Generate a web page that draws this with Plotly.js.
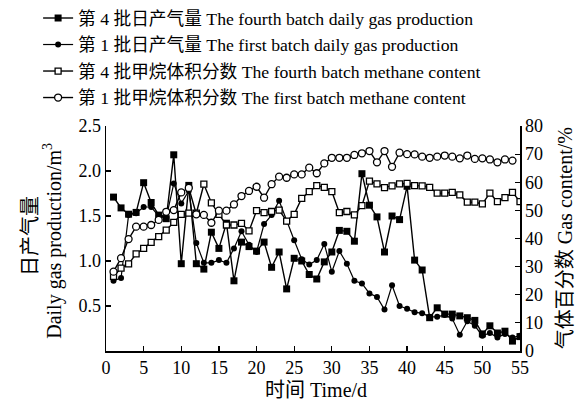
<!DOCTYPE html>
<html>
<head>
<meta charset="utf-8">
<script src="https://cdn.plot.ly/plotly-3.0.1.min.js"></script>
<style>html,body{margin:0;padding:0;background:#fff;}#chart{width:582px;height:402px;}</style>
</head>
<body>
<div id="chart"></div>
<script>
// Day numbers
var days = [];
for (var i = 1; i <= 55; i++) days.push(i);
var daysD = days.slice(0, 54);

var seriesNames = [
  "第 4 批日产气量 The fourth batch daily gas production",
  "第 1 批日产气量 The first batch daily gas production",
  "第 4 批甲烷体积分数 The fourth batch methane content",
  "第 1 批甲烷体积分数 The first batch methane content"
];

// 4th batch daily gas production (m3), left axis
var gas4 = [1.71,1.59,1.52,1.54,1.87,1.65,1.51,1.47,2.18,0.97,
            1.84,0.97,0.91,1.32,1.14,1.42,0.78,1.21,1.16,1.11,
            1.21,0.93,1.10,0.69,1.03,1.00,0.85,0.80,0.99,1.10,
            1.34,1.33,1.22,1.97,1.62,1.49,1.10,1.50,1.46,1.83,
            1.01,0.90,0.37,0.48,0.41,0.41,0.39,0.37,0.34,0.19,
            0.28,0.20,0.22,0.11,0.16];

// 1st batch daily gas production (m3), left axis
var gas1 = [0.78,0.81,1.51,1.53,1.60,1.60,1.50,1.48,1.86,1.64,
            1.78,1.20,0.98,0.98,1.01,0.98,1.14,1.33,1.18,1.10,
            1.41,1.51,1.67,1.44,1.23,1.02,0.96,1.01,1.19,0.88,
            1.11,0.97,0.78,0.75,0.64,0.60,0.46,0.73,0.50,0.47,
            0.43,0.42,0.38,0.38,0.40,0.36,0.18,0.33,0.28,0.17,
            0.20,0.15,0.19,0.15,0.17];

// 4th batch methane content (%), right axis
var ch4_4 = [26.5,29.5,31.0,34.5,36.5,38.6,40.7,43.0,45.7,48.6,
             49.0,49.0,59.3,52.7,48.6,44.8,44.8,45.4,42.7,49.9,
             49.2,49.6,50.1,46.2,48.6,54.3,56.7,58.8,58.2,56.7,
             49.2,49.6,48.4,51.7,60.4,59.4,58.1,58.7,59.4,59.6,
             58.8,58.7,58.2,56.1,56.1,56.4,55.5,52.9,52.9,52.3,
             56.1,53.1,54.5,56.4,53.1];

// 1st batch methane content (%), right axis
var ch4_1 = [28.2,33.0,39.8,44.2,44.2,44.8,46.6,49.5,50.1,56.4,
             58.0,48.6,48.4,45.6,49.9,49.9,52.1,55.1,56.9,58.4,
             54.5,59.3,62.0,61.6,62.8,62.8,65.2,63.2,66.7,68.7,
             68.7,68.7,69.7,70.3,71.1,67.1,71.1,65.5,70.5,70.0,
             69.9,69.1,68.7,69.1,69.5,69.1,68.5,69.5,68.3,68.5,
             68.1,67.1,68.1,67.7];

var xTicks = [0,5,10,15,20,25,30,35,40,45,50,55];
var yTicks = [0.5,1.0,1.5,2.0,2.5];
var yTickText = ["0.5","1.0","1.5","2.0","2.5"];
var y2Ticks = [0,10,20,30,40,50,60,70,80];

var xTitle = "时间 Time/d";
var yTitleCn = "日产气量";
var yTitleEn = "Daily gas production/m<sup>3</sup>";
var y2Title = "气体百分数 Gas content/%";

var lineStyle = {color: "#000", width: 1.4};
var traces = [
  {x: days, y: gas4, name: seriesNames[0], legendgroup: "a", type: "scatter", mode: "lines+markers",
   line: lineStyle, marker: {symbol: "square", size: 7, color: "#000"}},
  {x: days, y: gas1, name: seriesNames[1], legendgroup: "b", type: "scatter", mode: "lines+markers",
   line: {color: "#000", width: 1.2}, marker: {symbol: "circle", size: 6, color: "#000"}},
  {x: days, y: ch4_4, name: seriesNames[2], legendgroup: "c", type: "scatter", mode: "lines+markers", yaxis: "y2",
   line: lineStyle, marker: {symbol: "square", size: 6, color: "#fff", line: {color: "#000", width: 1.3}}},
  {x: daysD, y: ch4_1, name: seriesNames[3], legendgroup: "d", type: "scatter", mode: "lines+markers", yaxis: "y2",
   line: lineStyle, marker: {symbol: "circle", size: 7, color: "#fff", line: {color: "#000", width: 1.3}}}
];

var fontFam = '"Liberation Serif", "Noto Sans CJK SC", serif';
var axCommon = {showline: true, linecolor: "#000", linewidth: 1.5, ticks: "inside", ticklen: 5,
  tickwidth: 1.2, tickcolor: "#000", showgrid: false, zeroline: false,
  tickfont: {family: fontFam, size: 18, color: "#000"}};

var titleFont = {family: fontFam, size: 20, color: "#000"};

var layout = {
  width: 582, height: 402,
  margin: {l: 106, r: 62, t: 126, b: 51},
  paper_bgcolor: "#fff", plot_bgcolor: "#fff",
  font: {family: fontFam, size: 17, color: "#000"},
  showlegend: true,
  legend: {xref: "paper", yref: "container", x: -0.164, y: 1.0, xanchor: "left", yanchor: "top",
    bgcolor: "rgba(0,0,0,0)", traceorder: "grouped", tracegroupgap: 0.5, itemwidth: 30,
    font: {family: fontFam, size: 17.7, color: "#000"}},
  xaxis: Object.assign({}, axCommon, {range: [0, 55], tickvals: xTicks}),
  yaxis: Object.assign({}, axCommon, {range: [0, 2.5], tickvals: yTicks, ticktext: yTickText}),
  yaxis2: Object.assign({}, axCommon, {range: [0, 80], tickvals: y2Ticks, overlaying: "y", side: "right"}),
  annotations: [
    {text: xTitle, xref: "paper", yref: "paper", x: 0.507, y: -0.175, xanchor: "center", yanchor: "middle",
     showarrow: false, font: titleFont},
    {text: yTitleCn, xref: "paper", yref: "paper", x: -0.184, y: 0.51, xanchor: "center", yanchor: "middle",
     textangle: -90, showarrow: false, font: titleFont},
    {text: yTitleEn, xref: "paper", yref: "paper", x: -0.128, y: 0.49, xanchor: "center", yanchor: "middle",
     textangle: -90, showarrow: false, font: titleFont},
    {text: y2Title, xref: "paper", yref: "paper", x: 1.108, y: 0.5, xanchor: "center", yanchor: "middle",
     textangle: -90, showarrow: false, font: titleFont}
  ]
};

Plotly.newPlot("chart", traces, layout, {displayModeBar: false, staticPlot: true});
</script>
</body>
</html>
